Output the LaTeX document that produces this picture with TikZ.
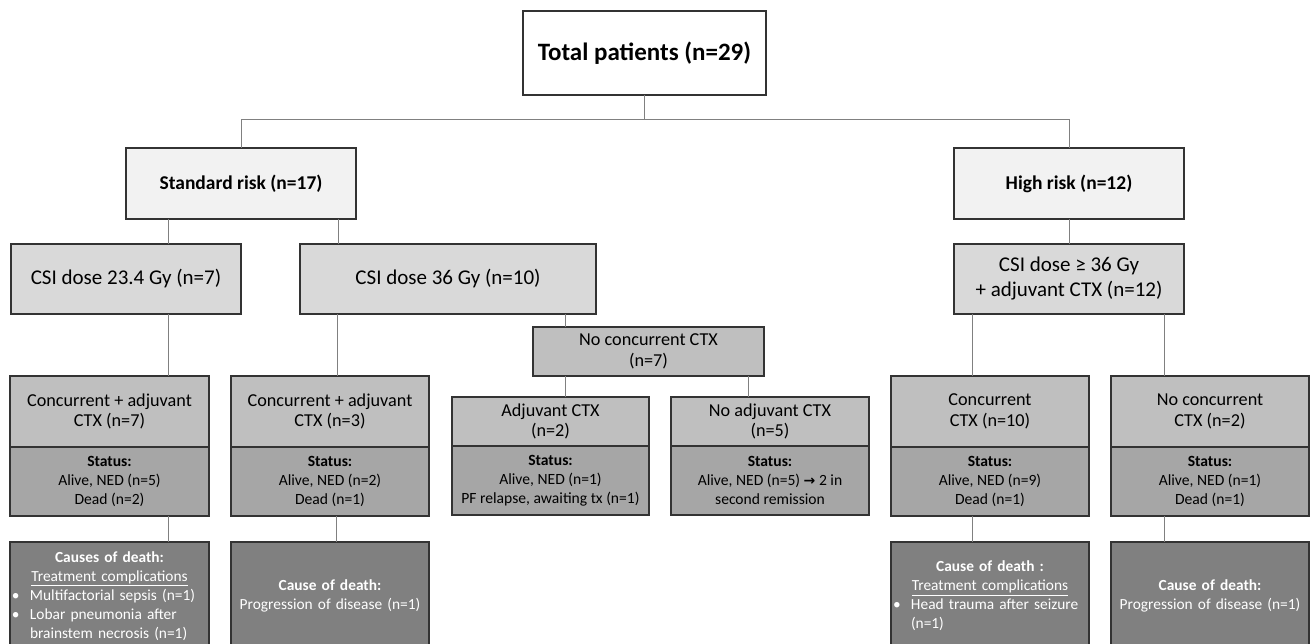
\documentclass[tikz,border=0pt]{standalone}
\usepackage{fontspec}
\setmainfont{Carlito}
\newfontfamily\arrowfont{DejaVu Sans}
\usetikzlibrary{positioning}

% bullet lines inside the death boxes
\newcommand{\itemline}[1]{\makebox[\linewidth][l]{\hspace{-2pt}\makebox[18pt][l]{•}#1}}
\newcommand{\moreline}[1]{\makebox[\linewidth][l]{\hspace{16pt}#1}}

\begin{document}
\begin{tikzpicture}[x=1pt, y=-1pt,
  link/.style={draw=black!50, line width=1pt},
  box/.style={draw=black!80, line width=1.1pt, align=center, inner sep=0pt, outer sep=0pt},
  riskbox/.style={box, fill=black!5, minimum width=230pt, minimum height=71pt, font=\fontsize{19.5}{23}\selectfont\bfseries},
  dosebox/.style={box, fill=black!15, minimum height=70pt, font=\fontsize{21}{25}\selectfont},
  armbox/.style={box, fill=black!25, font=\fontsize{18.2}{20.5}\selectfont},
  statusbox/.style={box, fill=black!35, minimum height=69pt, font=\fontsize{15.6}{19}\selectfont},
  deathbox/.style={box, fill=black!50, text=white, minimum height=108pt, inner xsep=4pt, font=\fontsize{15.4}{19}\selectfont}]
\useasboundingbox (0,0) rectangle (1311,644);
\clip (0,0) rectangle (1311,644);

% top
\node[box, fill=white, minimum width=243pt, minimum height=84pt, font=\fontsize{25}{29}\selectfont\bfseries] (total) at (644.5,53) {Total patients (n=29)};

% risk groups
\node[riskbox] (standard) at (241,183.5) {Standard risk (n=17)};
\node[riskbox] (high) at (1069,183.5) {High risk (n=12)};

% CSI dose
\node[dosebox, minimum width=230pt] (dose23) at (126,279) {CSI dose 23.4 Gy (n=7)};
\node[dosebox, minimum width=296pt] (dose36) at (448,279) {CSI dose 36 Gy (n=10)};
\node[dosebox, minimum width=230pt] (dosehigh) at (1069,279) {CSI dose ≥ 36 Gy\\+ adjuvant CTX (n=12)};

\node[armbox, minimum width=231pt, minimum height=49pt] (nocon) at (648.5,351.5) {No concurrent CTX\\(n=7)};

% treatment arms and status
\node[armbox, minimum width=199pt, minimum height=71pt] (arm23) at (109.5,411.5) {Concurrent + adjuvant\\CTX (n=7)};
\node[statusbox, minimum width=199pt, below=0pt of arm23] (stat23) {\textbf{Status:}\\Alive, NED (n=5)\\Dead (n=2)};
\node[armbox, minimum width=198pt, minimum height=71pt] (arm36) at (330,411.5) {Concurrent + adjuvant\\CTX (n=3)};
\node[statusbox, minimum width=198pt, below=0pt of arm36] (stat36) {\textbf{Status:}\\Alive, NED (n=2)\\Dead (n=1)};
\node[armbox, minimum width=197pt, minimum height=49pt] (adj) at (550.5,421.5) {Adjuvant CTX\\(n=2)};
\node[statusbox, minimum width=197pt, below=0pt of adj] (statadj) {\textbf{Status:}\\Alive, NED (n=1)\\PF relapse, awaiting tx (n=1)};
\node[armbox, minimum width=198pt, minimum height=49pt] (noadj) at (770,421.5) {No adjuvant CTX\\(n=5)};
\node[statusbox, minimum width=198pt, below=0pt of noadj] (statnoadj) {\textbf{Status:}\\Alive, NED (n=5) {\arrowfont\bfseries\fontsize{14}{19}\selectfont →} 2 in\\second remission};
\node[armbox, minimum width=198pt, minimum height=71pt] (conc) at (990,411.5) {Concurrent\\CTX (n=10)};
\node[statusbox, minimum width=198pt, below=0pt of conc] (statconc) {\textbf{Status:}\\Alive, NED (n=9)\\Dead (n=1)};
\node[armbox, minimum width=198pt, minimum height=71pt] (noconc) at (1210,411.5) {No concurrent\\CTX (n=2)};
\node[statusbox, minimum width=198pt, below=0pt of noconc] (statnoconc) {\textbf{Status:}\\Alive, NED (n=1)\\Dead (n=1)};

% causes of death
\node[deathbox, text width=191pt] (dead23) at (109.5,596) {\textbf{Causes of death:}\\\underline{Treatment complications}\\\itemline{Multifactorial sepsis (n=1)}\\\itemline{Lobar pneumonia after}\\\moreline{brainstem necrosis (n=1)}};
\node[deathbox, text width=190pt] (dead36) at (330,596) {\textbf{Cause of death:}\\Progression of disease (n=1)};
\node[deathbox, text width=190pt] (deadconc) at (990,596) {\textbf{Cause of death :}\\\underline{Treatment complications}\\\itemline{Head trauma after seizure}\\\moreline{(n=1)}};
\node[deathbox, text width=190pt] (deadnoconc) at (1210,596) {\textbf{Cause of death:}\\Progression of disease (n=1)};

% connectors
\draw[link] (total.south) -- ++(0,25) coordinate (split) -| (standard.north);
\draw[link] (split) -| (high.north);
\draw[link] ([xshift=-73pt]standard.south) -- ([xshift=42pt]dose23.north);
\draw[link] ([xshift=97pt]standard.south) -- ([xshift=-110pt]dose36.north);
\draw[link] (high) -- (dosehigh);
\draw[link] ([xshift=42pt]dose23.south) -- ([xshift=58.5pt]arm23.north);
\draw[link] ([xshift=-111pt]dose36.south) -- ([xshift=7pt]arm36.north);
\draw[link] ([xshift=117pt]dose36.south) -- ([xshift=-83.5pt]nocon.north);
\draw[link] ([xshift=-83.5pt]nocon.south) -- ([xshift=14.5pt]adj.north);
\draw[link] ([xshift=99.5pt]nocon.south) -- ([xshift=-22pt]noadj.north);
\draw[link] ([xshift=-97pt]dosehigh.south) -- ([xshift=-18pt]conc.north);
\draw[link] ([xshift=95pt]dosehigh.south) -- ([xshift=-46pt]noconc.north);
\draw[link] ([xshift=58.5pt]stat23.south) -- ([xshift=58.5pt]dead23.north);
\draw[link] ([xshift=6pt]stat36.south) -- ([xshift=6pt]dead36.north);
\draw[link] ([xshift=-18pt]statconc.south) -- ([xshift=-18pt]deadconc.north);
\draw[link] ([xshift=-46pt]statnoconc.south) -- ([xshift=-46pt]deadnoconc.north);
\end{tikzpicture}
\end{document}
